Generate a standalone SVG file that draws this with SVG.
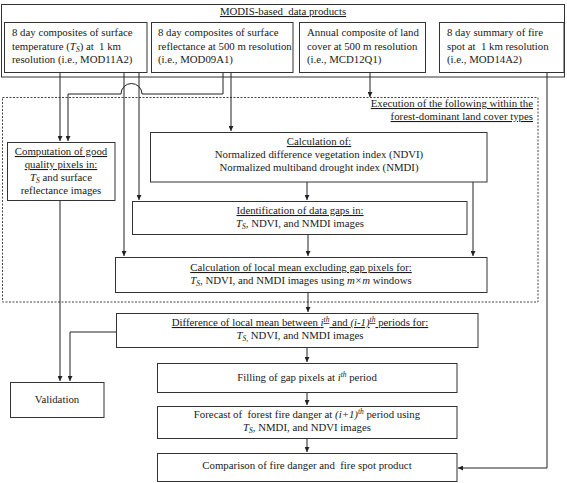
<svg xmlns="http://www.w3.org/2000/svg" width="567" height="483" viewBox="0 0 567 483">
<style>
text{font-family:"Liberation Serif","Times New Roman",serif;font-size:10.8px;fill:#1a1a1a;white-space:pre}
.box{fill:#fff;stroke:#333;stroke-width:1}
.c{text-anchor:middle}
.r{text-anchor:end}
.u{text-decoration:underline}
.i{font-style:italic}
.sub{font-style:italic;font-size:7.5px}
.sup{font-style:italic;font-size:7.5px}
.ln{fill:none;stroke:#222;stroke-width:1}
.dash{fill:none;stroke:#444;stroke-width:1;stroke-dasharray:2 1.5}
</style>
<defs>
<marker id="ah" viewBox="0 0 8 8" refX="8" refY="4" markerWidth="5" markerHeight="5" markerUnits="userSpaceOnUse" orient="auto">
<path d="M0,0 L8,4 L0,8 z" fill="#222"/>
</marker>
</defs>
<rect width="567" height="483" fill="#fff"/>

<g id="modis-group">
<rect x="1.5" y="4.5" width="563" height="72.5" fill="none" stroke="#333"/>
<text x="283" y="15" class="c u">MODIS-based  data products</text>
</g>
<g id="exec-group">
<rect x="2.5" y="97.5" width="535.5" height="204.5" class="dash"/>
<text x="533" y="107" class="r u">Execution of the following within the</text>
<text x="533" y="120" class="r u">forest-dominant land cover types</text>
</g>

<g id="connectors">
<path class="ln" d="M60,72 V141" marker-end="url(#ah)"/>
<path class="ln" d="M124,72 V256" marker-end="url(#ah)"/>
<path class="ln" d="M139,72 V200" marker-end="url(#ah)"/>
<path class="ln" d="M223,72 V94 H142 A10.5,10.5 0 0 0 121,94 H68 V141" marker-end="url(#ah)"/>
<path class="ln" d="M231,72 V131" marker-end="url(#ah)"/>
<path class="ln" d="M370,72 V97" marker-end="url(#ah)"/>
<path class="ln" d="M547,72 V468 H458" marker-end="url(#ah)"/>
<path class="ln" d="M307,182 V200" marker-end="url(#ah)"/>
<path class="ln" d="M308,234 V256" marker-end="url(#ah)"/>
<path class="ln" d="M473,182 V256" marker-end="url(#ah)"/>
<path class="ln" d="M308,292 V312" marker-end="url(#ah)"/>
<path class="ln" d="M60,200 V381" marker-end="url(#ah)"/>
<path class="ln" d="M116,332 H70 V381" marker-end="url(#ah)"/>
<path class="ln" d="M307,347 V362" marker-end="url(#ah)"/>
<path class="ln" d="M307,392 V405" marker-end="url(#ah)"/>
<path class="ln" d="M307,438 V452" marker-end="url(#ah)"/>
</g>

<g id="mod11a2">
<rect x="4.5" y="22.5" width="142.5" height="50" class="box"/>
<text x="12" y="36">8 day composites of surface</text>
<text x="12" y="50">temperature (<tspan class="i">T</tspan><tspan class="sub" dy="2">S</tspan><tspan dy="-2">) at  1 km</tspan></text>
<text x="12" y="63">resolution (i.e., MOD11A2)</text>
</g>
<g id="mod09a1">
<rect x="151.5" y="22.5" width="141.5" height="50" class="box"/>
<text x="158" y="36">8 day composites of surface</text>
<text x="158" y="50">reflectance at 500 m resolution</text>
<text x="158" y="63">(i.e., MOD09A1)</text>
</g>
<g id="mcd12q1">
<rect x="299.5" y="22.5" width="126" height="50" class="box"/>
<text x="307" y="36">Annual composite of land</text>
<text x="307" y="50">cover at 500 m resolution</text>
<text x="307" y="63">(i.e., MCD12Q1)</text>
</g>
<g id="mod14a2">
<rect x="439.5" y="22.5" width="124.5" height="50" class="box"/>
<text x="447" y="36">8 day summary of fire</text>
<text x="447" y="50">spot at  1 km resolution</text>
<text x="447" y="63">(i.e., MOD14A2)</text>
</g>

<g id="quality">
<rect x="7.5" y="142.5" width="107.5" height="58" class="box"/>
<text x="61" y="155" class="c u">Computation of good</text>
<text x="61" y="168" class="c u">quality pixels in:</text>
<text x="61" y="181" class="c"><tspan class="i">T</tspan><tspan class="sub" dy="2">S</tspan><tspan dy="-2"> and surface</tspan></text>
<text x="61" y="194" class="c">reflectance images</text>
</g>
<g id="indices">
<rect x="150.5" y="132.5" width="336.5" height="49.5" class="box"/>
<text x="319" y="145" class="c u">Calculation of:</text>
<text x="319" y="158" class="c">Normalized difference vegetation index (NDVI)</text>
<text x="319" y="171" class="c">Normalized multiband drought index (NMDI)</text>
</g>
<g id="gaps">
<rect x="132.5" y="201.5" width="334.5" height="33" class="box"/>
<text x="300" y="214" class="c u">Identification of data gaps in:</text>
<text x="300" y="227" class="c"><tspan class="i">T</tspan><tspan class="sub" dy="2">S</tspan><tspan dy="-2">, NDVI, and NMDI images</tspan></text>
</g>
<g id="localmean">
<rect x="115.5" y="257.5" width="371.5" height="35" class="box"/>
<text x="301" y="271" class="c u">Calculation of local mean excluding gap pixels for:</text>
<text x="301" y="284" class="c"><tspan class="i">T</tspan><tspan class="sub" dy="2">S</tspan><tspan dy="-2">, NDVI, and NMDI images using </tspan><tspan class="i">m×m</tspan> windows</text>
</g>
<g id="difference">
<rect x="116.5" y="313.5" width="361.5" height="34" class="box"/>
<text x="300" y="326" class="c u">Difference of local mean between <tspan class="i">i</tspan><tspan class="sup" dy="-4">th</tspan><tspan dy="4"> and </tspan><tspan class="i">(i-1)</tspan><tspan class="sup" dy="-4">th</tspan><tspan dy="4"> periods for:</tspan></text>
<text x="300" y="339" class="c"><tspan class="i">T</tspan><tspan class="sub" dy="2">S,</tspan><tspan dy="-2"> NDVI, and NMDI images</tspan></text>
</g>
<g id="validation">
<rect x="10.5" y="382.5" width="93.5" height="35" class="box"/>
<text x="57" y="403" class="c">Validation</text>
</g>
<g id="filling">
<rect x="157.5" y="363.5" width="299.5" height="29" class="box"/>
<text x="307" y="381" class="c">Filling of gap pixels at <tspan class="i">i</tspan><tspan class="sup" dy="-4">th</tspan><tspan dy="4"> period</tspan></text>
</g>
<g id="forecast">
<rect x="157.5" y="406.5" width="299.5" height="32" class="box"/>
<text x="307" y="418" class="c">Forecast of  forest fire danger at <tspan class="i">(i+1)</tspan><tspan class="sup" dy="-4">th</tspan><tspan dy="4"> period using</tspan></text>
<text x="307" y="431" class="c"><tspan class="i">T</tspan><tspan class="sub" dy="2">S</tspan><tspan dy="-2">, NMDI, and NDVI images</tspan></text>
</g>
<g id="comparison">
<rect x="157.5" y="453.5" width="299.5" height="28" class="box"/>
<text x="307" y="469" class="c">Comparison of fire danger and  fire spot product</text>
</g>
</svg>
